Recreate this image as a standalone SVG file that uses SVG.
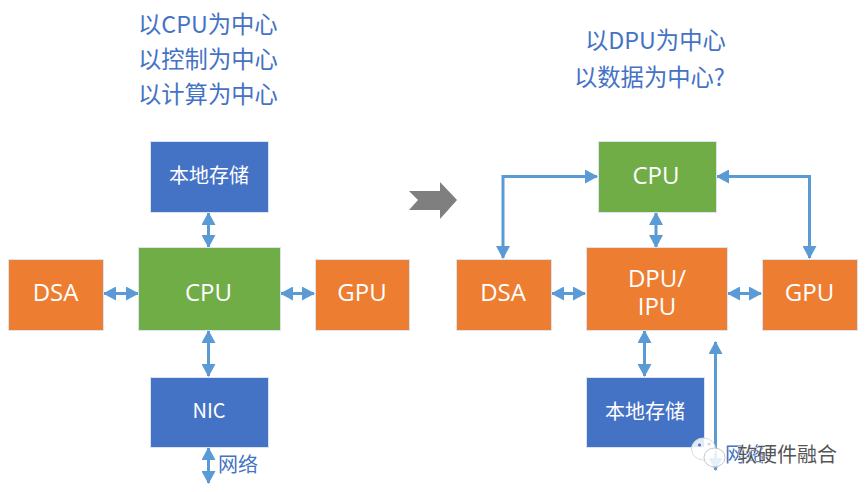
<svg xmlns="http://www.w3.org/2000/svg" width="865" height="492" viewBox="0 0 865 492">
  <style>
    text { font-family: "Noto Sans CJK SC", "Open Sans", "Noto Sans", sans-serif; }
    .box { stroke: #dbe3f0; stroke-width: 1; }
    .blue { fill: #4472c4; }
    .green { fill: #70ad47; }
    .orange { fill: #ed7d31; }
    .label { fill: #fff; font-size: 24px; text-anchor: middle; font-family: "Open Sans", "Noto Sans CJK SC", sans-serif; }
    .zh { font-size: 20px; font-family: "Noto Sans CJK SC", sans-serif; }
    .title { fill: #4472c4; font-size: 23.300px; }
    .link { fill: none; stroke: #5b9bd5; stroke-width: 3; marker-start: url(#head); marker-end: url(#head); }
  </style>
  <defs>
    <marker id="head" viewBox="0 0 13 14" refX="12" refY="7" markerUnits="userSpaceOnUse" markerWidth="13" markerHeight="14" orient="auto-start-reverse">
      <path d="M0 0L13 7L0 14Z" fill="#5b9bd5"/>
    </marker>
  </defs>

  <g id="title-left">
    <text class="title" x="138" y="33">以CPU为中心</text>
    <text class="title" x="138" y="68">以控制为中心</text>
    <text class="title" x="138" y="103">以计算为中心</text>
  </g>
  <g id="title-right">
    <text class="title" x="585" y="49">以DPU为中心</text>
    <text class="title" x="574" y="86">以数据为中心?</text>
  </g>

  <g id="connectors">
    <!-- CPU-centred side -->
    <path class="link" d="M208.500 213V247"/>
    <path class="link" d="M104 293.500H138"/>
    <path class="link" d="M281 293.500H314"/>
    <path class="link" d="M208.500 331V376"/>
    <path class="link" d="M208.500 448V483"/>
    <!-- DPU-centred side -->
    <path class="link" d="M503 258V176.500H597"/>
    <path class="link" d="M717 176.500H809.500V258"/>
    <path class="link" d="M656 213V247"/>
    <path class="link" d="M552 293.500H585"/>
    <path class="link" d="M728 293.500H761"/>
    <path class="link" d="M644.500 331V376"/>
    <path class="link" d="M715.500 342V470"/>
  </g>

  <g id="left-storage"><rect class="box blue" x="150.500" y="141.500" width="118" height="71"/><text class="label zh" x="209" y="183">本地存储</text></g>
  <g id="left-cpu"><rect class="box green" x="138.500" y="247.500" width="142" height="83"/><text class="label" x="208.500" y="301">CPU</text></g>
  <g id="left-dsa"><rect class="box orange" x="8.500" y="259.500" width="95" height="71"/><text class="label" x="55.500" y="301">DSA</text></g>
  <g id="left-gpu"><rect class="box orange" x="315.500" y="259.500" width="94" height="71"/><text class="label" x="362" y="301">GPU</text></g>
  <g id="left-nic"><rect class="box blue" x="150.500" y="377.500" width="118" height="70"/><text class="label zh" x="209" y="418">NIC</text></g>
  <text id="left-network" x="218" y="472" fill="#4472c4" font-size="20">网络</text>

  <g id="right-cpu"><rect class="box green" x="598.500" y="141.500" width="118" height="71"/><text class="label" x="656" y="184">CPU</text></g>
  <g id="right-dpu"><rect class="box orange" x="586.500" y="247.500" width="141" height="83"/><text class="label" x="657" y="287">DPU/</text><text class="label" x="657" y="315">IPU</text></g>
  <g id="right-dsa"><rect class="box orange" x="456.500" y="259.500" width="95" height="71"/><text class="label" x="503" y="301">DSA</text></g>
  <g id="right-gpu"><rect class="box orange" x="762.500" y="259.500" width="95" height="71"/><text class="label" x="809.500" y="301">GPU</text></g>
  <g id="right-storage"><rect class="box blue" x="586.500" y="377.500" width="118" height="70"/><text class="label zh" x="645" y="419">本地存储</text></g>
  <text id="right-network" x="725" y="462" fill="#4472c4" font-size="20">网络</text>

  <!-- transition arrow between the two layouts -->
  <path id="transition" d="M409 191H440V182L457 200L440 219V210H409L418 200Z" fill="#7f7f7f"/>

  <!-- account badge -->
  <g id="badge">
    <ellipse cx="703.500" cy="449" rx="12" ry="11" fill="#fff" fill-opacity="0.85" stroke="#dcdcdc"/>
    <ellipse cx="714.500" cy="457.500" rx="10.500" ry="9.500" fill="#fff" fill-opacity="0.85" stroke="#c8c8c8"/>
    <circle cx="699.500" cy="445" r="1.500" fill="#4472c4"/>
    <circle cx="709" cy="444" r="1.500" fill="#d8d8d8"/>
    <text x="737" y="462" fill="#555" font-size="20" style="paint-order: stroke; stroke: #fff; stroke-width: 1px">软硬件融合</text>
  </g>
</svg>
